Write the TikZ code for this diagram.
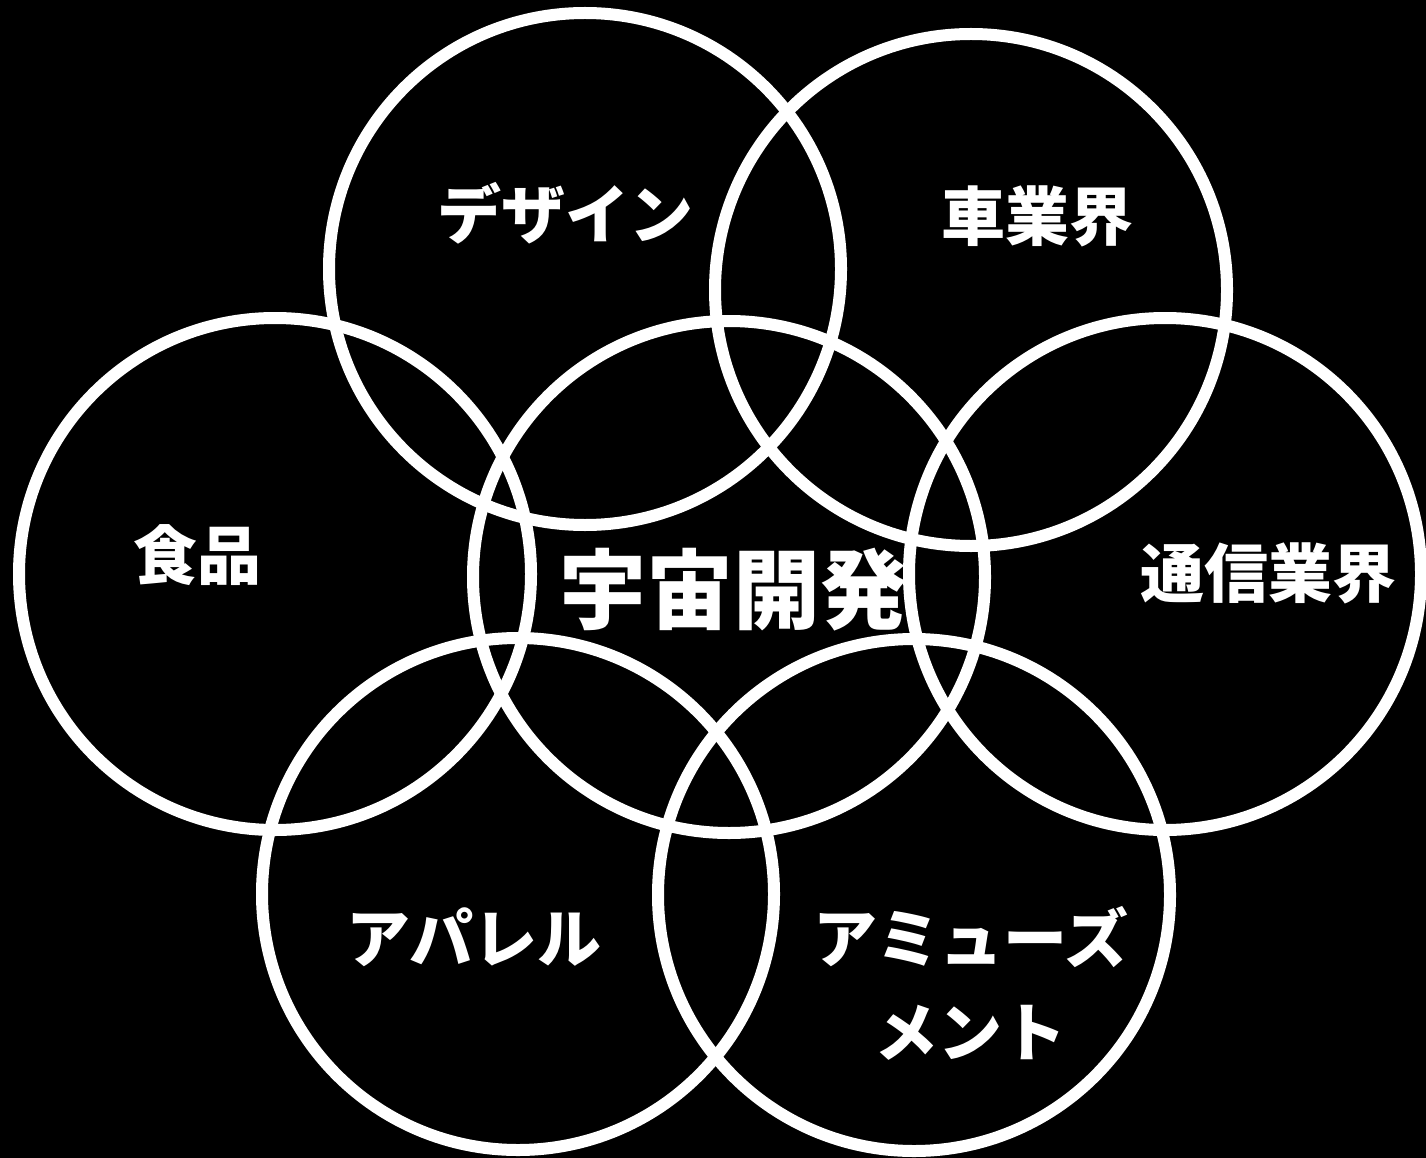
\documentclass[tikz,border=0pt]{standalone}
\usepackage{fontspec}
\newfontfamily\jp{Noto Sans CJK JP}
\begin{document}
\begin{tikzpicture}[x=1pt,y=-1pt,
  ring/.style={draw=white,line width=12pt,circle,minimum size=512pt,inner sep=0pt},
  lbl/.style={text=white,anchor=base,inner sep=0pt,font=\jp\bfseries\fontsize{64}{94}\selectfont,align=center},
  biglbl/.style={text=white,anchor=base,inner sep=0pt,font=\jp\bfseries\fontsize{87}{100}\selectfont}]
\fill[black] (0,0) rectangle (1426,1158);
\useasboundingbox (0,0) rectangle (1426,1158);
\node[ring] (design) at (585,269) {};
\node[ring] (car) at (971,290) {};
\node[ring] (food) at (275,574) {};
\node[ring] (space) at (729,577) {};
\node[ring] (telecom) at (1165,574) {};
\node[ring] (apparel) at (518,894) {};
\node[ring] (amuse) at (914,895) {};
\node[lbl] (tdesign) at (565,239) {デザイン};
\node[lbl] (tcar) at (1037,241) {車業界};
\node[lbl] (tfood) at (197,579) {食品};
\node[biglbl] (tspace) at (733,622) {宇宙開発};
\node[lbl] (ttelecom) at (1268,597) {通信業界};
\node[lbl] (tapparel) at (474,962) {アパレル};
\node[lbl,anchor=base] (tamuse) at (971,962) {アミューズ};
\node[lbl,anchor=base] (tamuse2) at (970,1056) {メント};
\end{tikzpicture}
\end{document}
